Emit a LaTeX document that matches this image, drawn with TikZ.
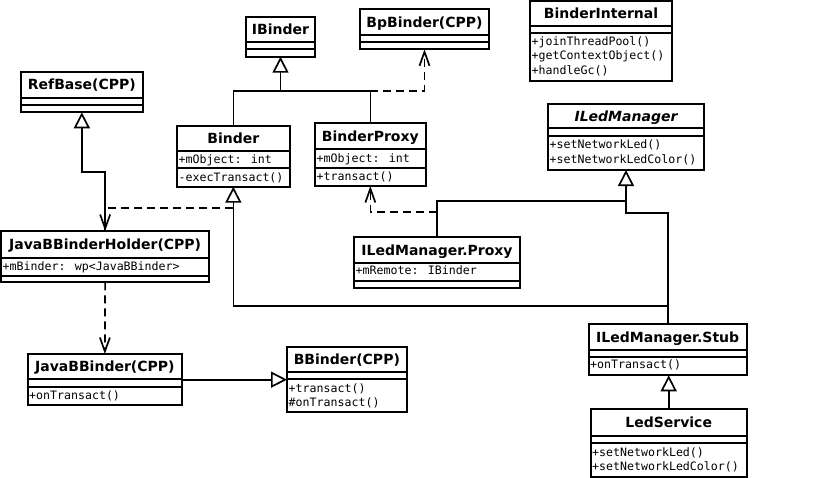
\documentclass[tikz,border=0pt]{standalone}
\usepackage{fontspec}
\setmainfont{DejaVu Sans}
\newfontfamily\monof{DejaVu Sans Mono}
\usetikzlibrary{arrows.meta,calc,fit}

\tikzset{
  boxline/.style={line width=1.7pt},
  classrect/.style={draw, line width=1.7pt, inner sep=0pt, outer sep=0pt, fill=white},
  titletext/.style={anchor=base, inner sep=0pt, font=\bfseries\fontsize{14}{16}\selectfont},
  memtext/.style={anchor=base west, inner sep=0pt, font=\monof\fontsize{11.6}{14}\selectfont},
  conn/.style={line width=1.7pt},
  inh/.style={conn, -{Triangle[open, length=16pt, width=16pt]}},
  dep/.style={conn, dash pattern=on 8pt off 5pt, -{Straight Barb[length=14pt, width=10pt]}},
}

% name, x1, x2, y1, y-title-bottom, y-divider, y2, title
\newcommand\classbox[8]{%
  \node[classrect, fit={(#2,#4) (#3,#7)}] (#1) {};
  \draw[boxline] (#2,#5) -- (#3,#5) (#2,#6) -- (#3,#6);
  \node[titletext] (#1-t) at ($(#2,#4)!.5!(#3,#5)+(0,5.1)$) {#8};
}
\newcommand\memline[4]{\node[memtext] (#1) at (#2,#3) {#4};}

\begin{document}
\begin{tikzpicture}[x=1pt,y=-1pt]
\fill[white] (0,0) rectangle (824,477);
\useasboundingbox (0,0) rectangle (824,477);

% ---------- classes ----------
\classbox{ibinder}{246}{315}{17}{42.3}{49.3}{56.7}{IBinder}
\classbox{bpbinder}{360}{489}{9.3}{34.7}{41.7}{49.3}{BpBinder(CPP)}
\classbox{binternal}{530}{672}{1}{26}{33.3}{80.7}{BinderInternal}
\memline{bi-m1}{531.5}{45.5}{+joinThreadPool()}
\memline{bi-m2}{531.5}{59.8}{+getContextObject()}
\memline{bi-m3}{531.5}{74}{+handleGc()}

\classbox{ilm}{548}{704}{104}{128.3}{136}{170}{\itshape ILedManager}
\memline{ilm-m1}{549.5}{148.5}{+setNetworkLed()}
\memline{ilm-m2}{549.5}{163}{+setNetworkLedColor()}

\classbox{refbase}{21}{142.7}{71.7}{97.7}{105}{112.3}{RefBase(CPP)}

\classbox{binder}{176.7}{290}{125.7}{150.7}{168.3}{186.7}{Binder}
\memline{binder-a}{178.5}{163}{+mObject: int}
\memline{binder-m}{178.5}{181}{-execTransact()}

\classbox{bproxy}{315}{425.7}{123.3}{149.3}{167.7}{186}{BinderProxy}
\memline{bproxy-a}{316.5}{162.7}{+mObject: int}
\memline{bproxy-m}{316.5}{180.5}{+transact()}

\classbox{proxy}{354}{520}{237.3}{263.3}{281}{288.3}{ILedManager.Proxy}
\memline{proxy-a}{355.5}{274.3}{+mRemote: IBinder}

\classbox{jbh}{1}{209.3}{231}{257.7}{275.7}{282.3}{JavaBBinderHolder(CPP)}
\memline{jbh-a}{2.5}{270}{+mBinder: wp<JavaBBinder>}

\classbox{jbb}{27.7}{182}{354}{379.3}{387.3}{405.3}{JavaBBinder(CPP)}
\memline{jbb-m}{29}{399.3}{+onTransact()}

\classbox{bbinder}{287}{406.7}{347}{372}{379.3}{412.3}{BBinder(CPP)}
\memline{bbinder-m1}{288.5}{392.3}{+transact()}
\memline{bbinder-m2}{288.5}{406.5}{\#onTransact()}

\classbox{stub}{588.7}{746.7}{324}{350}{357.3}{375.3}{ILedManager.Stub}
\memline{stub-m}{590}{368.3}{+onTransact()}

\classbox{ledsvc}{590.7}{746.7}{409.3}{435.7}{442.7}{476.7}{LedService}
\memline{led-m1}{592}{456}{+setNetworkLed()}
\memline{led-m2}{592}{470}{+setNetworkLedColor()}

% ---------- junction points ----------
\coordinate (jb) at (ibinder.south |- 0,91);
\coordinate (k1) at (jbh.north |- 0,172.3);
\coordinate (k2) at (binder.south |- 0,208.3);
\coordinate (k3) at (stub.north |- 0,305.7);
\coordinate (k4) at (stub.north |- 0,212.7);
\coordinate (k5) at (ilm.south |- 0,200.7);
\coordinate (k6) at (proxy.north |- 0,211.7);

% ---------- connectors ----------
\draw[inh] (binder.north) |- (jb) -- (ibinder.south);
\draw[conn] (bproxy.north) |- (jb);
\draw[dep] (bproxy.north |- jb) -| (bpbinder.south);

\draw[inh] (jbh.north) -- (k1) -| (refbase.south);
\draw[dep] (k2) -| (jbh.north);

\draw[inh] (stub.north) -- (k3) -| (binder.south);
\draw[inh] (k3) -- (k4) -| (ilm.south);
\draw[conn] (proxy.north) |- (k5);
\draw[dep] (k6) -| (bproxy.south);

\draw[dep] (jbh.south) -- (jbb.north);
\draw[inh] (jbb.east) -- (bbinder.west);
\draw[inh] (ledsvc.north) -- (ledsvc.north |- stub.south);
\end{tikzpicture}
\end{document}
